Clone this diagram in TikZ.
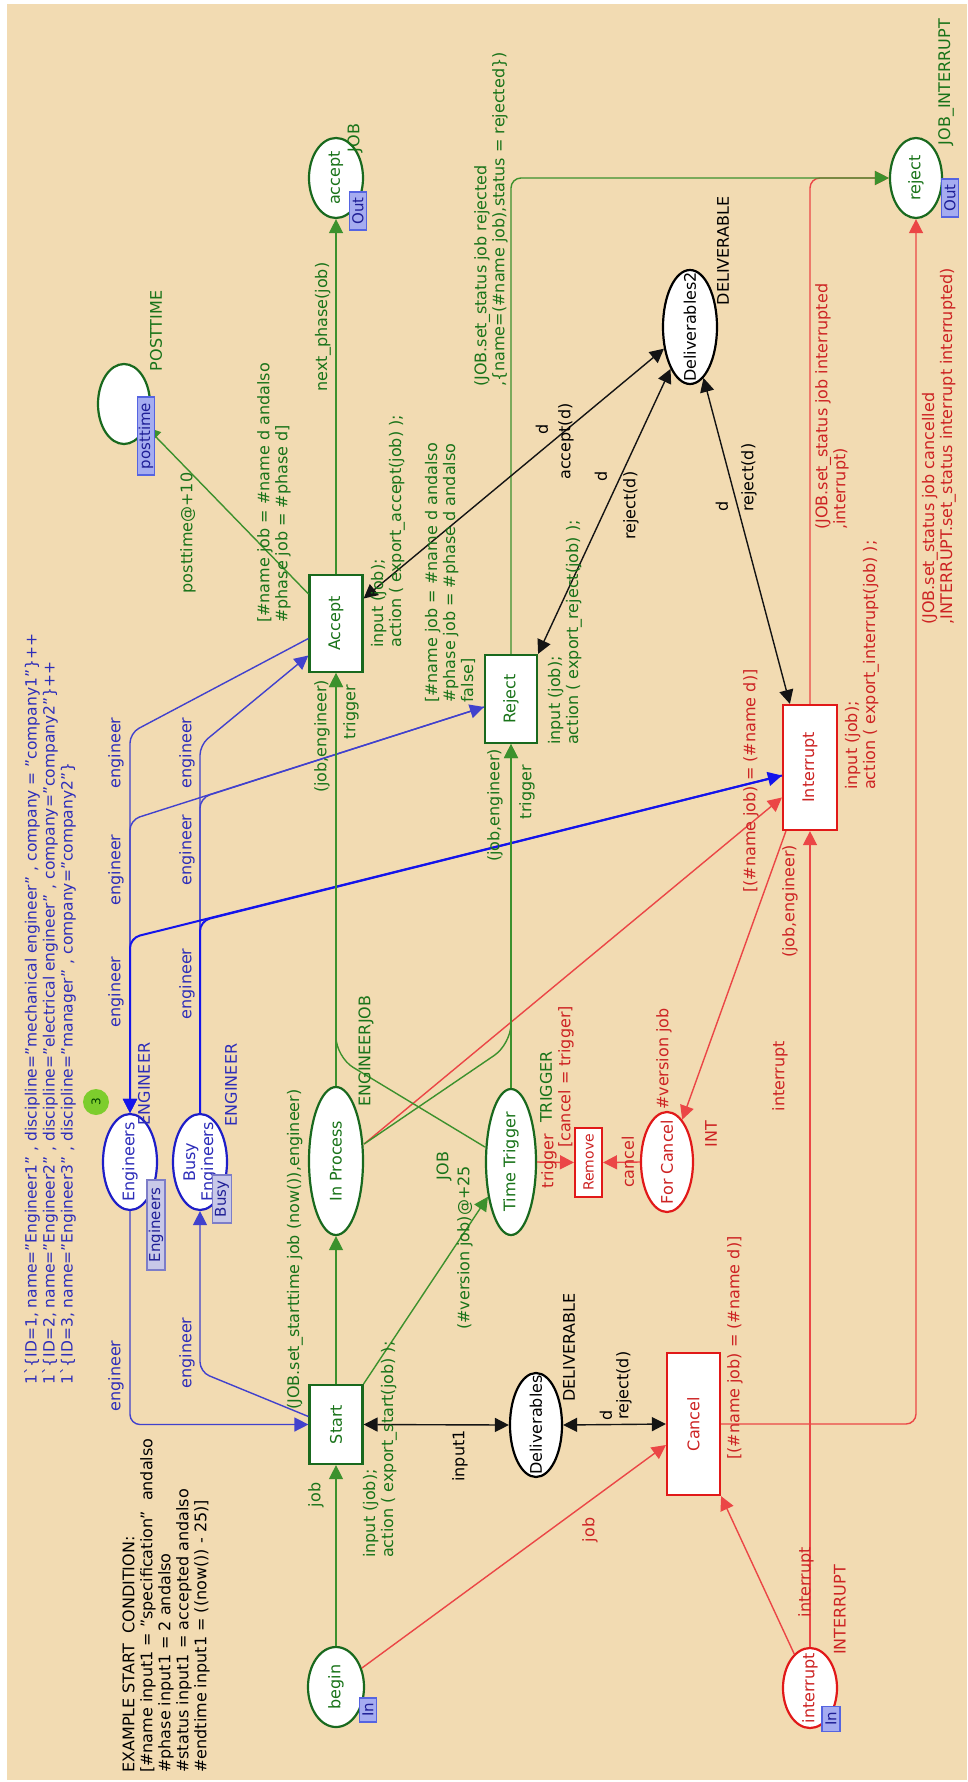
\documentclass[tikz,border=0pt]{standalone}
\usepackage{fontspec}
\setmainfont{DejaVu Sans}
\usetikzlibrary{shapes.geometric,arrows.meta}

\definecolor{paper}{RGB}{242,219,178}
\definecolor{gtxt}{RGB}{25,115,25}
\definecolor{gline}{RGB}{60,145,45}
\definecolor{gedge}{RGB}{25,105,30}
\definecolor{rtxt}{RGB}{205,35,35}
\definecolor{rline}{RGB}{235,70,70}
\definecolor{redge}{RGB}{225,25,25}
\definecolor{btxt}{RGB}{45,45,185}
\definecolor{bline}{RGB}{65,65,205}
\definecolor{bbright}{RGB}{20,20,235}
\definecolor{bedge}{RGB}{30,30,200}
\definecolor{kline}{RGB}{20,20,20}
\definecolor{tagfill}{RGB}{165,172,240}
\definecolor{tagedge}{RGB}{85,100,225}
\definecolor{tagtxt}{RGB}{30,30,150}
\definecolor{fusfill}{RGB}{200,200,232}
\definecolor{fusedge}{RGB}{125,125,200}
\definecolor{tokfill}{RGB}{125,205,45}

\newcommand{\lblfont}{\fontsize{16}{18}\selectfont}
\newcommand{\tagfont}{\fontsize{15}{16}\selectfont}

\tikzset{
  cpnplace/.style={ellipse, draw, line width=2.2pt, fill=white, inner sep=0pt},
  cpntrans/.style={rectangle, draw, line width=2.2pt, fill=white, inner sep=0pt},
  lab/.style={rotate=90, inner sep=0pt, font=\lblfont, align=left},
  glab/.style={lab, text=gtxt},
  rlab/.style={lab, text=rtxt},
  blab/.style={lab, text=btxt},
  klab/.style={lab, text=black},
  porttag/.style={rectangle, rotate=90, draw=tagedge, fill=tagfill, line width=1.2pt,
                  text=tagtxt, font=\tagfont, inner sep=0.5pt},
  fustag/.style={porttag, draw=fusedge, fill=fusfill},
  onehead/.style={-{Triangle[length=14pt,width=14pt]}},
  twoheads/.style={{Triangle[length=14pt,width=14pt]}-{Triangle[length=14pt,width=14pt]}},
  garc/.style={gline, line width=1.4pt, rounded corners=10pt},
  rarc/.style={rline, line width=1.4pt, rounded corners=10pt},
  barc/.style={bline, line width=1.4pt, rounded corners=10pt},
  karc/.style={kline, line width=1.4pt},
}

\begin{document}
\begin{tikzpicture}[x=1pt, y=-1pt]
\useasboundingbox (0,0) rectangle (967,1782);
\fill[white] (0,0) rectangle (967,1782);
\fill[paper] (7,4) rectangle (967,1780);

% ---------- places ----------
\node[cpnplace, draw=gedge, minimum width=52pt, minimum height=80pt] (pPost) at (124,404) {};
\node[cpnplace, draw=gedge, minimum width=54pt, minimum height=80pt] (pAcc) at (336,178) {};
\node[cpnplace, draw=gedge, minimum width=52pt, minimum height=80pt] (pRej) at (916,178) {};
\node[cpnplace, draw=black, minimum width=54pt, minimum height=114pt] (pDel2) at (690,327) {};
\node[cpnplace, draw=bedge, minimum width=54pt, minimum height=96pt] (pEng) at (130,1162) {};
\node[cpnplace, draw=bedge, minimum width=54pt, minimum height=96pt] (pBusy) at (200,1162) {};
\node[cpnplace, draw=gedge, minimum width=54pt, minimum height=148pt] (pInProc) at (336,1161) {};
\node[cpnplace, draw=gedge, minimum width=50pt, minimum height=146pt] (pTT) at (511,1162) {};
\node[cpnplace, draw=redge, minimum width=52pt, minimum height=100pt] (pFC) at (667,1162) {};
\node[cpnplace, draw=black, minimum width=52pt, minimum height=104pt] (pDel) at (536,1425) {};
\node[cpnplace, draw=gedge, minimum width=56pt, minimum height=80pt] (pBegin) at (336,1687) {};
\node[cpnplace, draw=redge, minimum width=54pt, minimum height=80pt] (pIntr) at (810,1688) {};

% ---------- transitions ----------
\node[cpntrans, draw=gedge, minimum width=53pt, minimum height=79pt] (tStart) at (336,1424.5) {};
\node[cpntrans, draw=gedge, minimum width=53pt, minimum height=97pt] (tAccept) at (336,623.5) {};
\node[cpntrans, draw=gedge, minimum width=52pt, minimum height=88pt] (tReject) at (511,699) {};
\node[cpntrans, draw=redge, minimum width=54pt, minimum height=125pt] (tInt) at (810,767.5) {};
\node[cpntrans, draw=redge, minimum width=53pt, minimum height=142pt] (tCancel) at (693.5,1424) {};
\node[cpntrans, draw=redge, line width=2pt, minimum width=27pt, minimum height=69pt] (tRemove) at (588.5,1162.5) {};

% ---------- bend points ----------
\coordinate (kSB) at (200,1372);
\coordinate (kAE) at (130,733);
\coordinate (kBA) at (200,745);
\coordinate (kRE) at (130,820);
\coordinate (kBR) at (200,798);
\coordinate (kIE) at (130,938);
\coordinate (kBI) at (200,921);
\coordinate (kTA) at (336,1057);
\coordinate (kIR) at (511,1044);

% ---------- blue arcs (engineers) ----------
\draw[barc, onehead] (pEng.south) |- (tStart.west);
\draw[barc, onehead] ([yshift=8pt]tStart.west) -- (kSB) -- (pBusy.south);
\draw[barc, onehead] ([yshift=-15pt]tAccept.west) -- (kAE) -- (pEng.north);
\draw[barc, onehead] (pBusy.north) -- (kBA) -- ([yshift=-32pt]tAccept.west);
\draw[barc, onehead] ([yshift=-8pt]tReject.west) -- (kRE) -- (pEng.north);
\draw[barc, onehead] (pBusy.north) -- (kBR) -- ([yshift=-8pt]tReject.west);
\draw[barc, bbright, line width=2pt, onehead] ([yshift=-8pt]tInt.west) -- (kIE) -- (pEng.north);
\draw[barc, bbright, line width=2pt, onehead] (pBusy.north) -- (kBI) -- ([yshift=-8pt]tInt.west);

% ---------- red arcs ----------
\draw[rarc, onehead] (tInt.north) |- (pRej.west);
\draw[rarc, onehead] (tCancel.east) -| (pRej.south);
\draw[rarc, onehead] ([yshift=17pt]pInProc.east) -- ([yshift=-30pt]tInt.west);
\draw[rarc, onehead] ([xshift=4pt]tInt.south west) -- (pFC);
\draw[rarc, onehead] (pFC.west) -- (tRemove.east);
\draw[rarc, onehead] (pTT.east) -- (tRemove.west);
\draw[rarc, onehead] (pBegin) -- ([yshift=-21pt]tCancel.west);
\draw[rarc, onehead] (pIntr) -- (tCancel.south east);
\draw[rarc, onehead] (pIntr.north) -- (tInt.south);

% ---------- green arcs ----------
\draw[garc, onehead] (pBegin.north) -- (tStart.south);
\draw[garc, onehead] (tStart.north) -- (pInProc.south);
\draw[garc, onehead] (tStart.north east) -- (pTT);
\draw[garc, onehead] (pInProc.north) -- (tAccept.south);
\draw[garc, rounded corners=20pt, onehead] ([yshift=15pt]pTT.west) -- (kTA) -- (tAccept.south);
\draw[garc, rounded corners=20pt, onehead] ([yshift=17pt]pInProc.east) -- (kIR) -- (tReject.south);
\draw[garc, onehead] (pTT.north) -- (tReject.south);
\draw[garc, onehead] (tAccept.north) -- (pAcc.south);
\draw[garc, onehead] ([yshift=-20pt]tAccept.north west) -- (pPost);
\draw[garc, onehead] (tReject.north) |- (pRej.west);

% ---------- black arcs (deliverables) ----------
\draw[karc, twoheads] (tStart.east) -- (pDel.west);
\draw[karc, twoheads] (pDel.east) -- (tCancel.west);
\draw[karc, twoheads] ([yshift=25pt]tAccept.east) -- (pDel2);
\draw[karc, twoheads] (tReject.north east) -- (pDel2);
\draw[karc, twoheads] ([xshift=8pt]tInt.north west) -- (pDel2);

% ---------- names inside places and transitions ----------
\node[glab] (nAcc) at (pAcc) {accept};
\node[glab] (nRej) at (pRej) {reject};
\node[klab] (nDel2) at (pDel2) {Deliverables2};
\node[blab] (nEng) at (pEng) {Engineers};
\node[blab, align=center] (nBusy) at (pBusy) {Busy\\Engineers};
\node[glab] (nInProc) at (pInProc) {In Process};
\node[glab] (nTT) at (pTT) {Time Trigger};
\node[rlab] (nFC) at (pFC) {For Cancel};
\node[klab] (nDel) at (pDel) {Deliverables};
\node[glab] (nBegin) at (pBegin) {begin};
\node[rlab] (nIntr) at (pIntr) {interrupt};
\node[glab] (nStart) at (tStart) {Start};
\node[glab] (nAccept) at (tAccept) {Accept};
\node[glab] (nReject) at (tReject) {Reject};
\node[rlab] (nInt) at (tInt) {Interrupt};
\node[rlab] (nCancel) at (tCancel) {Cancel};
\node[rlab, font=\fontsize{14}{16}\selectfont] (nRemove) at (tRemove) {Remove};

% ---------- port and fusion tags ----------
\node[porttag, minimum width=38pt, minimum height=17pt] (gOutA) at (358,211) {Out};
\node[porttag, minimum width=38pt, minimum height=17pt] (gOutR) at (950,198) {Out};
\node[porttag, minimum width=24pt, minimum height=17pt] (gInB) at (368,1710) {In};
\node[porttag, minimum width=25pt, minimum height=18pt] (gInI) at (831,1719) {In};
\node[porttag, minimum width=78pt, minimum height=17pt] (gPost) at (146,436) {posttime};
\node[fustag, minimum width=90pt, minimum height=18pt] (gEng) at (156,1225) {Engineers};
\node[fustag, minimum width=48pt, minimum height=19pt] (gBusy) at (222,1199) {Busy};

% token count on Engineers
\node[circle, fill=tokfill, minimum size=26pt, inner sep=0pt, rotate=90,
      font=\fontsize{12}{12}\selectfont, text=black!75!green] (tok) at (96,1102) {3};

% ---------- green inscriptions ----------
\node[glab] (lPostT) at (156,331) {POSTTIME};
\node[glab] (lPostArc) at (188,533) {posttime@+10};
\node[glab, anchor=west] (lAccG) at (274,623) {[\#name job = \#name d andalso\\\#phase job = \#phase d]};
\node[glab] (lNext) at (323,327) {next\_phase(job)};
\node[glab] (lJobA) at (355,138) {JOB};
\node[glab, anchor=west] (lAccC) at (388,648) {input (job);\\action ( export\_accept(job) );};
\node[glab, anchor=west] (lJEa) at (322,793) {(job,engineer)};
\node[glab] (lTrA) at (351,712) {trigger};
\node[glab, anchor=west] (lRejG) at (450,703) {[\#name job = \#name d andalso\\\#phase job = \#phase d andalso\\false]};
\node[glab, anchor=west] (lRejC) at (565,745) {input (job);\\action ( export\_reject(job) );};
\node[glab, anchor=west] (lJEr) at (495,862) {(job,engineer)};
\node[glab] (lTrR) at (527,792) {trigger};
\node[glab, anchor=west] (lRejSet) at (491,387) {(JOB.set\_status job rejected\\,\{name=(\#name job),status = rejected\})};
\node[glab] (lJI) at (946,82) {JOB\_INTERRUPT};
\node[glab, anchor=west] (lSetStart) at (295,1410) {(JOB.set\_starttime job (now()),engineer)};
\node[glab] (lEJ) at (366,1051) {ENGINEERJOB};
\node[glab] (lJobT) at (444,1166) {JOB};
\node[glab, anchor=west] (lVer) at (465,1330) {(\#version job)@+25};
\node[glab] (lTrig) at (546,1087) {TRIGGER};
\node[glab, anchor=west] (lStartC) at (380,1558) {input (job);\\action ( export\_start(job) );};
\node[glab] (lJobS) at (316,1495) {job};

% ---------- black inscriptions ----------
\node[klab] (lDV2) at (723,251) {DELIVERABLE};
\node[klab] (lDa) at (542,429) {d};
\node[klab, anchor=west] (lAcd) at (566,480) {accept(d)};
\node[klab] (lDr) at (601,476) {d};
\node[klab, anchor=west] (lRjd) at (631,540) {reject(d)};
\node[klab] (lDi) at (722,506) {d};
\node[klab, anchor=west] (lRjdI) at (749,512) {reject(d)};
\node[klab, anchor=west] (lDV) at (569,1402) {DELIVERABLE};
\node[klab] (lIn1) at (460,1456) {input1};
\node[klab] (lDc) at (606,1415) {d};
\node[klab, anchor=west] (lRjdC) at (624,1420) {reject(d)};
\node[klab, anchor=west] (lCond) at (166,1773) {EXAMPLE START\ \ CONDITION:\\{[}\#name input1 = "specification"\ \ andalso\\\#phase input1 = 2 andalso\\\#status input1 = accepted andalso\\\#endtime input1 = ((now()) - 25)]};

% ---------- blue inscriptions ----------
\node[blab, anchor=west, font=\fontsize{15.5}{18}\selectfont] (lInit) at (50,1385) {1\textasciigrave\{ID=1, name="Engineer1" , discipline="mechanical engineer" , company = "company1"\}++\\1\textasciigrave\{ID=2, name="Engineer2" , discipline="electrical engineer" , company="company2"\}++\\1\textasciigrave\{ID=3, name="Engineer3" , discipline="manager" , company="company2"\}};
\node[blab] (lEN1) at (144,1084) {ENGINEER};
\node[blab] (lEN2) at (231,1085) {ENGINEER};
\node[blab] (lE1) at (116,753) {engineer};
\node[blab] (lE2) at (116,870) {engineer};
\node[blab] (lE3) at (116,992) {engineer};
\node[blab] (lE4) at (116,1376) {engineer};
\node[blab] (lE5) at (187,753) {engineer};
\node[blab] (lE6) at (187,850) {engineer};
\node[blab] (lE7) at (187,984) {engineer};
\node[blab] (lE8) at (187,1353) {engineer};

% ---------- red inscriptions ----------
\node[rlab, anchor=west] (lIntSet) at (832,530) {(JOB.set\_status job interrupted\\,interrupt)};
\node[rlab, anchor=west] (lCanSet) at (939,625) {(JOB.set\_status job cancelled\\,INTERRUPT.set\_status interrupt interrupted)};
\node[rlab, anchor=west] (lIntC) at (862,790) {input (job);\\action ( export\_interrupt(job) );};
\node[rlab, anchor=west] (lIntG) at (751,893) {[(\#name job) = (\#name d)]};
\node[rlab, anchor=west] (lJEi) at (790,958) {(job,engineer)};
\node[rlab] (lIntr1) at (780,1076) {interrupt};
\node[rlab] (lVerJ) at (664,1059) {\#version job};
\node[rlab] (lINT) at (711,1134) {INT};
\node[rlab] (lCT) at (566,1077) {[cancel = trigger]};
\node[rlab] (lTrR2) at (549,1161) {trigger};
\node[rlab] (lCanc) at (628,1162) {cancel};
\node[rlab, anchor=west] (lCanG) at (735,1460) {[(\#name job) = (\#name d)]};
\node[rlab] (lJobR) at (590,1530) {job};
\node[rlab] (lIntr2) at (806,1582) {interrupt};
\node[rlab] (lINTR) at (840,1610) {INTERRUPT};
\end{tikzpicture}
\end{document}
